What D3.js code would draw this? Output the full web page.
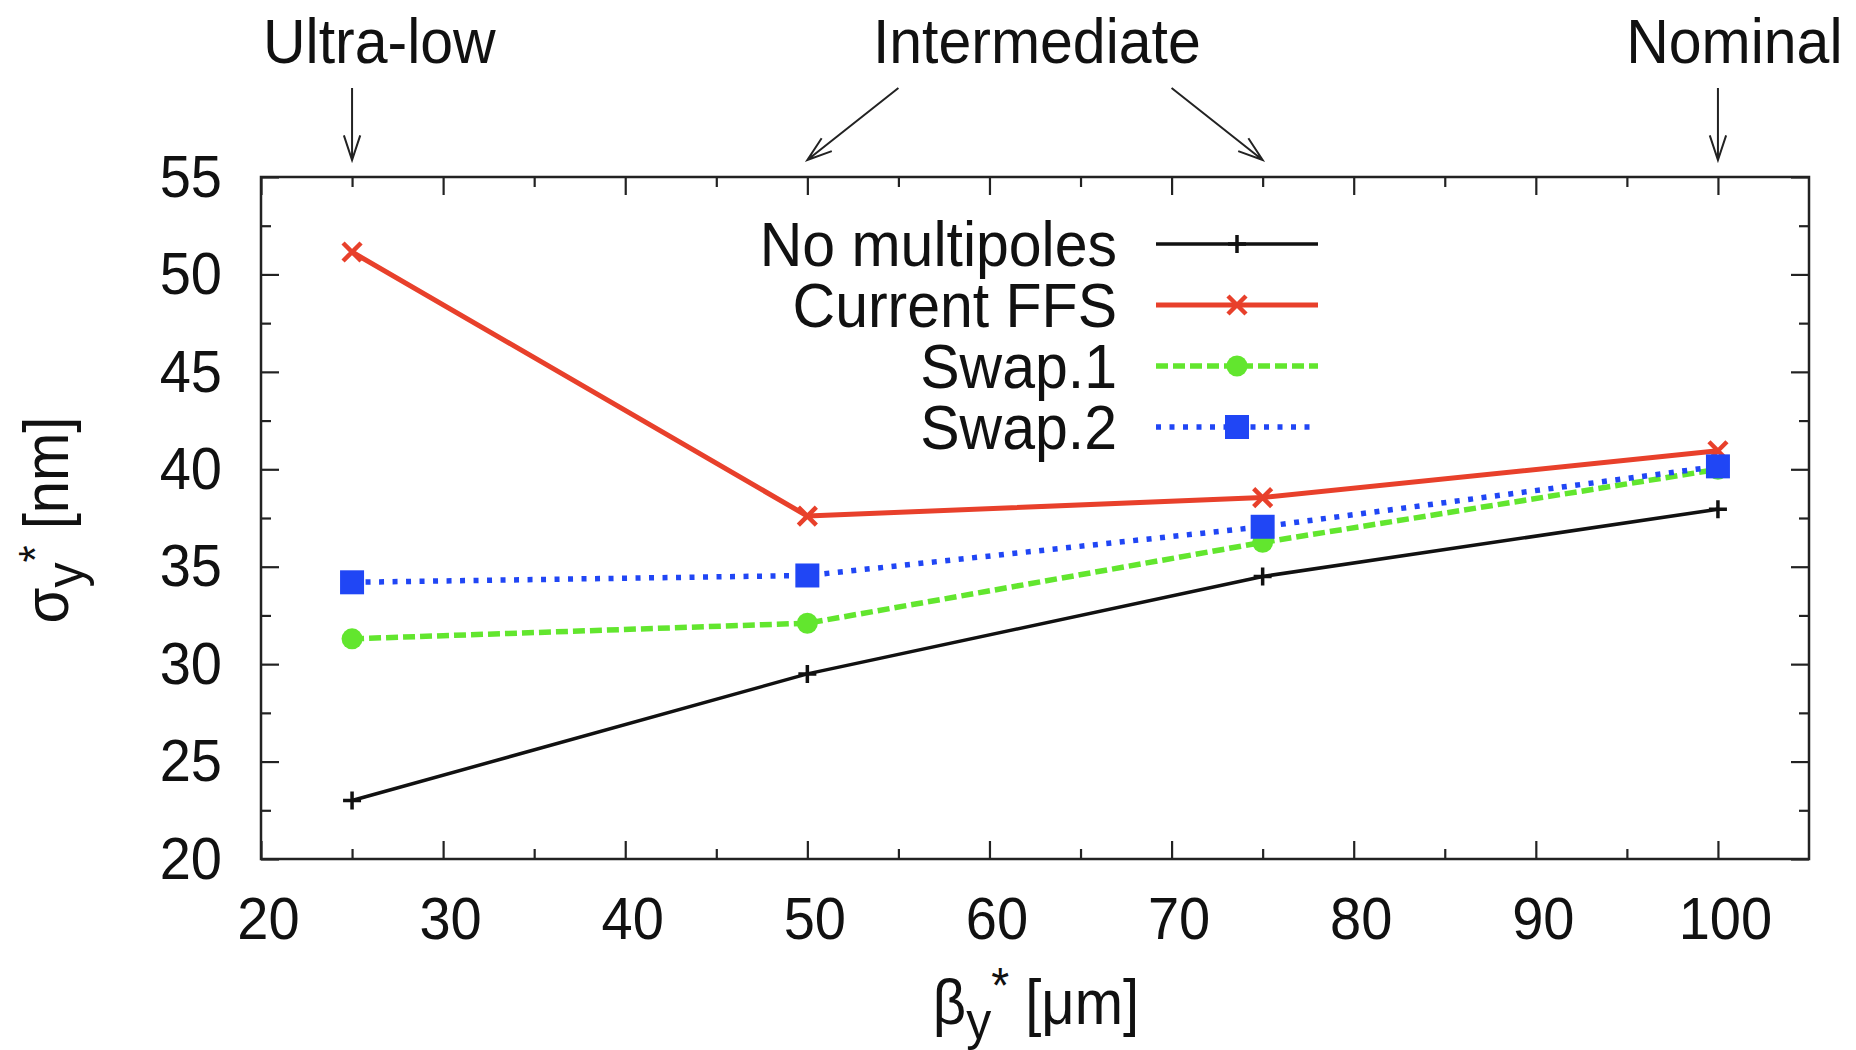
<!DOCTYPE html>
<html>
<head>
<meta charset="utf-8">
<script src="https://cdn.jsdelivr.net/npm/d3@7/dist/d3.min.js"></script>
<style>
  html, body { margin: 0; padding: 0; background: #fff; }
  svg { display: block; font-family: "Liberation Sans", Arial, Helvetica, sans-serif; }
  text.tall, .tick text { transform-box: fill-box; transform-origin: center; transform: scaleY(1.07); }
</style>
</head>
<body>
<svg id="chart" width="1856" height="1050"></svg>
<script>
// ---- data ----
const betaY = [25, 50, 75, 100];
const noMultipoles = [23.0, 29.5, 34.5, 37.95];
const currentFFS = [51.15, 37.6, 38.55, 40.95];
const swap1 = [31.3, 32.1, 36.25, 40.0];
const swap2 = [34.2, 34.55, 37.05, 40.15];
const seriesNames = ["No multipoles", "Current FFS", "Swap.1", "Swap.2"];
const xTicks = [20, 30, 40, 50, 60, 70, 80, 90, 100];
const xMinorTicks = [25, 35, 45, 55, 65, 75, 85, 95];
const yTicks = [20, 25, 30, 35, 40, 45, 50, 55];
const yMinorTicks = [22.5, 27.5, 32.5, 37.5, 42.5, 47.5, 52.5];
const annotationLabels = ["Ultra-low", "Intermediate", "Nominal"];
const annotationTextX = [26.5, 62.6, 100.9];
const annotationArrows = [[{from: 25, to: 25}], [{from: 55, to: 50}, {from: 70, to: 75}], [{from: 100, to: 100}]];

// ---- layout ----
const W = 1856, H = 1050;
const L = 261, R = 1809, T = 177, B = 859;
const svg = d3.select("#chart");

const x = d3.scaleLinear().domain([20, 105]).range([L, R]);
const y = d3.scaleLinear().domain([20, 55]).range([B, T]);

const styles = [
  {color: "#111111", width: 3.5, dash: null, marker: "plus"},
  {color: "#e8402b", width: 5, dash: null, marker: "cross"},
  {color: "#62e62e", width: 5.5, dash: "12 5", marker: "circle"},
  {color: "#2046f5", width: 5.5, dash: "5 8.5", marker: "square"}
];
const allSeries = [noMultipoles, currentFFS, swap1, swap2];

// ---- axes ----
const axisColor = "#222";
function styleAxis(g) {
  g.select(".domain").remove();
  g.selectAll(".tick line").attr("stroke", axisColor).attr("stroke-width", 2.2);
  g.selectAll(".tick text").attr("fill", "#111").style("font-size", "56px")
    .style("font-family", '"Liberation Sans", Arial, sans-serif');
}
const major = 18, minor = 10, pad = 39;

svg.append("g").attr("transform", `translate(0,${B})`)
  .call(d3.axisBottom(x).tickValues(xTicks).tickSize(-major).tickPadding(pad).tickFormat(d3.format("d")))
  .call(styleAxis)
  .call(g => g.selectAll(".tick text").attr("dx", 7));
svg.append("g").attr("transform", `translate(0,${B})`)
  .call(d3.axisBottom(x).tickValues(xMinorTicks).tickSize(-minor).tickFormat(""))
  .call(styleAxis);
svg.append("g").attr("transform", `translate(0,${T})`)
  .call(d3.axisTop(x).tickValues(xTicks).tickSize(-major).tickFormat(""))
  .call(styleAxis);
svg.append("g").attr("transform", `translate(0,${T})`)
  .call(d3.axisTop(x).tickValues(xMinorTicks).tickSize(-minor).tickFormat(""))
  .call(styleAxis);

svg.append("g").attr("transform", `translate(${L},0)`)
  .call(d3.axisLeft(y).tickValues(yTicks).tickSize(-major).tickPadding(pad).tickFormat(d3.format("d")))
  .call(styleAxis);
svg.append("g").attr("transform", `translate(${L},0)`)
  .call(d3.axisLeft(y).tickValues(yMinorTicks).tickSize(-minor).tickFormat(""))
  .call(styleAxis);
svg.append("g").attr("transform", `translate(${R},0)`)
  .call(d3.axisRight(y).tickValues(yTicks).tickSize(-major).tickFormat(""))
  .call(styleAxis);
svg.append("g").attr("transform", `translate(${R},0)`)
  .call(d3.axisRight(y).tickValues(yMinorTicks).tickSize(-minor).tickFormat(""))
  .call(styleAxis);

// frame
svg.append("rect").attr("x", L).attr("y", T).attr("width", R - L).attr("height", B - T)
  .attr("fill", "none").attr("stroke", axisColor).attr("stroke-width", 2.5);

// ---- axis titles ----
const xt = svg.append("text").attr("class", "tall").attr("x", (L + R) / 2 + 1).attr("y", 1023)
  .attr("text-anchor", "middle").style("font-size", "58px").attr("fill", "#111");
xt.append("tspan").text("β");
xt.append("tspan").attr("dy", 14).style("font-size", "50px").text("y");
xt.append("tspan").attr("dy", -34).style("font-size", "46px").text("*");
xt.append("tspan").attr("dy", 20).text(" [μm]");

const yt = svg.append("g").attr("transform", `translate(67,${(T + B) / 2 + 2}) rotate(-90)`)
  .append("text").attr("class", "tall")
  .attr("text-anchor", "middle").style("font-size", "58px").attr("fill", "#111");
yt.append("tspan").text("σ");
yt.append("tspan").attr("dy", 14).style("font-size", "50px").text("y");
yt.append("tspan").attr("dy", -30).style("font-size", "44px").text("*");
yt.append("tspan").attr("dy", 16).text(" [nm]");

// ---- series ----
const line = d3.line().x((d, i) => x(betaY[i])).y(d => y(d));

function drawMarker(g, type, cx, cy, color) {
  if (type === "plus") {
    g.append("path").attr("d", `M${cx - 9},${cy}H${cx + 9}M${cx},${cy - 9}V${cy + 9}`)
      .attr("stroke", color).attr("stroke-width", 3.5).attr("fill", "none");
  } else if (type === "cross") {
    g.append("path").attr("d", `M${cx - 9},${cy - 9}L${cx + 9},${cy + 9}M${cx - 9},${cy + 9}L${cx + 9},${cy - 9}`)
      .attr("stroke", color).attr("stroke-width", 4.5).attr("fill", "none");
  } else if (type === "circle") {
    g.append("circle").attr("cx", cx).attr("cy", cy).attr("r", 10.5).attr("fill", color);
  } else if (type === "square") {
    g.append("rect").attr("x", cx - 12).attr("y", cy - 12).attr("width", 24).attr("height", 24).attr("fill", color);
  }
}

allSeries.forEach((vals, si) => {
  const st = styles[si];
  const g = svg.append("g");
  g.append("path").datum(vals).attr("d", line).attr("fill", "none")
    .attr("stroke", st.color).attr("stroke-width", st.width)
    .attr("stroke-dasharray", st.dash).attr("stroke-linejoin", "round");
  vals.forEach((v, i) => drawMarker(g, st.marker, x(betaY[i]), y(v), st.color));
});

// ---- legend ----
const legRows = [244, 305, 366, 427];
seriesNames.forEach((name, si) => {
  const st = styles[si];
  const cy = legRows[si];
  const g = svg.append("g");
  g.append("text").attr("class", "tall").attr("x", 1117).attr("y", cy + 21).attr("text-anchor", "end")
    .style("font-size", "59px").attr("fill", "#111").text(name);
  g.append("line").attr("x1", 1156).attr("x2", 1318).attr("y1", cy).attr("y2", cy)
    .attr("stroke", st.color).attr("stroke-width", st.width).attr("stroke-dasharray", st.dash);
  drawMarker(g, st.marker, 1237, cy, st.color);
});

// ---- annotations ----
const arrowTop = 88, arrowTip = 160;
annotationLabels.forEach((lab, ai) => {
  svg.append("text").attr("class", "tall").attr("x", x(annotationTextX[ai])).attr("y", 62).attr("text-anchor", "middle")
    .style("font-size", "59px").attr("fill", "#111").text(lab);
  annotationArrows[ai].forEach(a => {
    const x1 = x(a.from), x2 = x(a.to);
    const y1 = arrowTop, y2 = arrowTip;
    const ang = Math.atan2(y2 - y1, x2 - x1);
    const hl = 26, ha = 0.32;
    const p1 = [x2 - hl * Math.cos(ang - ha), y2 - hl * Math.sin(ang - ha)];
    const p2 = [x2 - hl * Math.cos(ang + ha), y2 - hl * Math.sin(ang + ha)];
    svg.append("path")
      .attr("d", `M${x1},${y1}L${x2},${y2}M${p1[0]},${p1[1]}L${x2},${y2}L${p2[0]},${p2[1]}`)
      .attr("stroke", "#222").attr("stroke-width", 2).attr("fill", "none");
  });
});
</script>
</body>
</html>
